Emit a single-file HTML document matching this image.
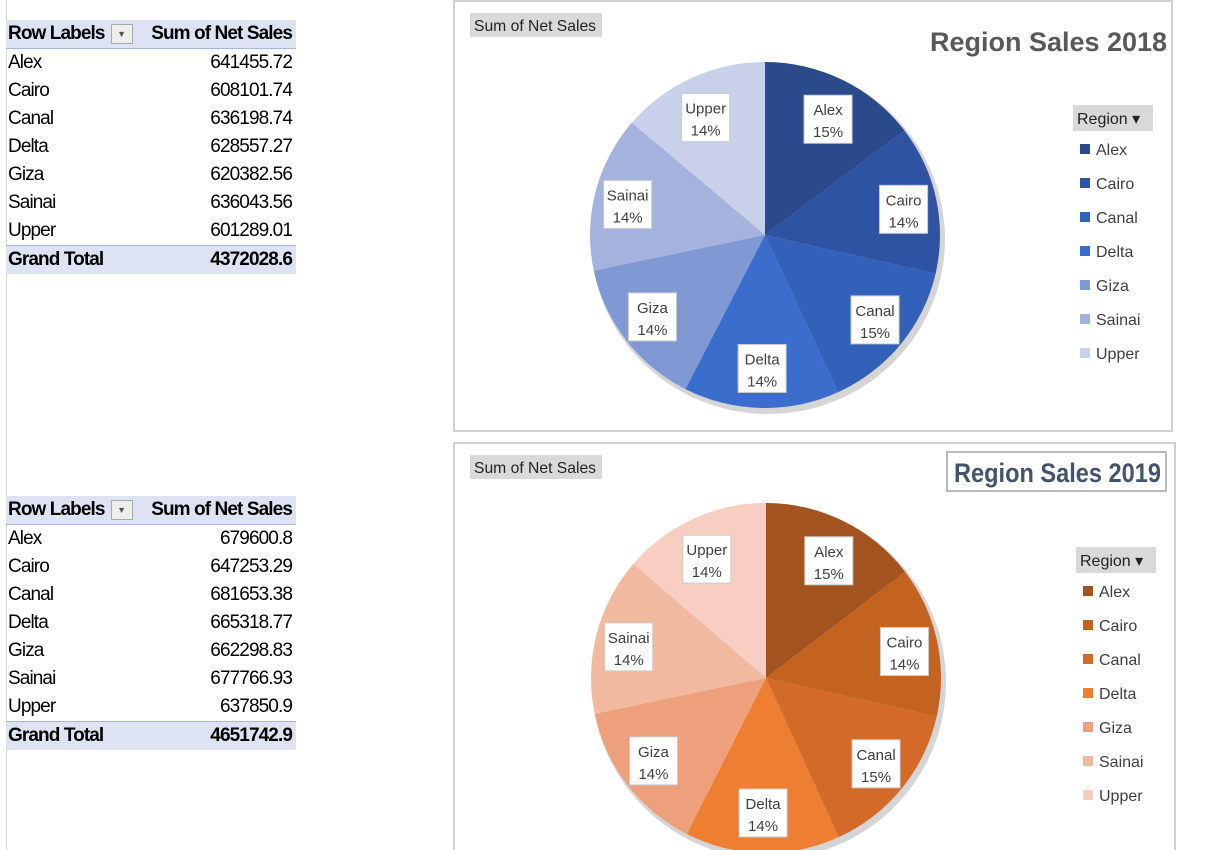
<!DOCTYPE html>
<html><head><meta charset="utf-8"><style>
body{margin:0;width:1215px;height:850px;background:#fff;overflow:hidden;position:relative;font-family:"Liberation Sans",sans-serif}
.grid{position:absolute;left:0;top:0;width:6px;height:850px;border-right:1px solid #d4d4d4}
table.pv{position:absolute;left:6px;border-collapse:collapse;font-size:19px;color:#000;width:290px;letter-spacing:-0.9px}
table.pv td{height:28px;padding:0 4px 0 2px;white-space:nowrap}
table.pv tr.h td{background:#dde3f3;font-weight:bold;border-bottom:1px solid #a9b6d8}
table.pv tr.t td{background:#dde3f3;font-weight:bold;border-top:1px solid #a9b6d8}
td.n{text-align:right}
.dd{display:inline-block;width:20px;height:18px;border:1px solid #aaa;background:#eee;vertical-align:middle;font-size:9px;text-align:center;line-height:18px;color:#555;margin-left:6px;letter-spacing:0}
svg{position:absolute;left:0;top:0}
</style></head><body>
<div class="grid"></div>
<table class="pv" style="top:20px">
<tr class="h"><td>Row Labels<span class="dd">▼</span></td><td class="n">Sum of Net Sales</td></tr>
<tr><td>Alex</td><td class="n">641455.72</td></tr><tr><td>Cairo</td><td class="n">608101.74</td></tr>
<tr><td>Canal</td><td class="n">636198.74</td></tr><tr><td>Delta</td><td class="n">628557.27</td></tr>
<tr><td>Giza</td><td class="n">620382.56</td></tr><tr><td>Sainai</td><td class="n">636043.56</td></tr>
<tr><td>Upper</td><td class="n">601289.01</td></tr>
<tr class="t"><td>Grand Total</td><td class="n">4372028.6</td></tr></table>
<table class="pv" style="top:496px">
<tr class="h"><td>Row Labels<span class="dd">▼</span></td><td class="n">Sum of Net Sales</td></tr>
<tr><td>Alex</td><td class="n">679600.8</td></tr><tr><td>Cairo</td><td class="n">647253.29</td></tr>
<tr><td>Canal</td><td class="n">681653.38</td></tr><tr><td>Delta</td><td class="n">665318.77</td></tr>
<tr><td>Giza</td><td class="n">662298.83</td></tr><tr><td>Sainai</td><td class="n">677766.93</td></tr>
<tr><td>Upper</td><td class="n">637850.9</td></tr>
<tr class="t"><td>Grand Total</td><td class="n">4651742.9</td></tr></table>
<svg id="s" width="1215" height="850"></svg>
<script>
const categories=["Alex","Cairo","Canal","Delta","Giza","Sainai","Upper"];
const sales2018=[641455.72,608101.74,636198.74,628557.27,620382.56,636043.56,601289.01];
const sales2019=[679600.8,647253.29,681653.38,665318.77,662298.83,677766.93,637850.9];
const pct2018=["15%","14%","15%","14%","14%","14%","14%"];
const pct2019=["15%","14%","15%","14%","14%","14%","14%"];
const colors2018=["#2b4a8c","#2e53a3","#3360b8","#3a6dcc","#8099d5","#a4b3dd","#c8d0ea"];
const colors2019=["#a3531f","#c4621f","#d36a28","#ee7e32","#eda07b","#f2b9a1","#f7cec1"];
const S=document.getElementById('s');const NS="http://www.w3.org/2000/svg";
function mk(t,a,p){const e=document.createElementNS(NS,t);for(const k in a)e.setAttribute(k,a[k]);(p||S).appendChild(e);return e;}
function chart(box,title,titleBox,vals,pcts,cols,cx,cy,rx,ry,legY,name){
 const g=mk('g',{});
 
 
 const fr=mk('rect',{x:box[0],y:box[1],width:box[2],height:box[3],fill:'#fff',stroke:'#d0d0d0','stroke-width':2},g);
 
 
 const fb=mk('rect',{x:box[0]+16,y:box[1]+12,width:132,height:24,fill:'#d9d9d9'},g);
 
 
 const ft=mk('text',{x:box[0]+20,y:box[1]+30,'font-size':16,fill:'#222',textLength:122,lengthAdjust:'spacingAndGlyphs'},g);ft.textContent='Sum of Net Sales';
 
 
 if(titleBox){const tb=mk('rect',{x:titleBox[0],y:titleBox[1],width:titleBox[2],height:titleBox[3],fill:'#fff',stroke:'#bbb','stroke-width':2},g);
  
  }
 const tt=mk('text',{x:title[1],y:title[2],'font-size':27,'font-weight':'bold',fill:title[3],textLength:title[4],lengthAdjust:'spacingAndGlyphs'},g);tt.textContent=title[0];
 
 
 const tot=vals.reduce((a,b)=>a+b,0);let a0=0;const clipId=name+'c';
 const cp=mk('clipPath',{id:clipId},g);mk('rect',{x:box[0],y:box[1],width:box[2],height:box[3]},cp);
 const pg=mk('g',{'clip-path':'url(#'+clipId+')'},g);
 mk('ellipse',{cx:cx+3,cy:cy+4,rx:rx+2,ry:ry+2,fill:'#888',opacity:.35},pg);
 vals.forEach((v,i)=>{const a1=a0+v/tot*2*Math.PI;
  const P=a=>[cx+rx*Math.sin(a),cy-ry*Math.cos(a)];const p0=P(a0),p1=P(a1);
  const s=mk('path',{d:`M${cx},${cy}L${p0[0]},${p0[1]}A${rx},${ry} 0 ${a1-a0>Math.PI?1:0} 1 ${p1[0]},${p1[1]}Z`,fill:cols[i]},pg);
  
  
  const m=(a0+a1)/2;const lx=cx+rx*0.81*Math.sin(m),ly=cy-ry*0.76*Math.cos(m)+4;
  const lr=mk('rect',{x:lx-24,y:ly-26,width:48,height:48,fill:'#fff',stroke:'#ccc'},pg);
  
  
  const l1=mk('text',{x:lx,y:ly-6,'font-size':15,fill:'#404040','text-anchor':'middle'},pg);l1.textContent=categories[i];
  
  
  const l2=mk('text',{x:lx,y:ly+16,'font-size':15,fill:'#404040','text-anchor':'middle'},pg);l2.textContent=pcts[i];
  
  
  a0=a1;});
 const lgx=box[0]+box[2]-95;
 const rb=mk('rect',{x:lgx-4,y:legY-14,width:80,height:26,fill:'#d9d9d9'},g);
 
 
 const rt=mk('text',{x:lgx,y:legY+5,'font-size':16,fill:'#222'},g);rt.textContent='Region   ▾';
 
 
 categories.forEach((c,i)=>{const y=legY+30+i*34;
  const sw=mk('rect',{x:lgx+3,y:y-5,width:10,height:10,fill:cols[i]},g);
  
  
  const t=mk('text',{x:lgx+19,y:y+6,'font-size':16,fill:'#404040'},g);t.textContent=c;
  
  });
}
chart([454,1,718,430],["Region Sales 2018",930,51,"#595959",237],null,sales2018,pct2018,colors2018,765,235,175,173,119,'chart-2018');
chart([454,443,721,420],["Region Sales 2019",954,482,"#44546a",207],[947,452,219,39],sales2019,pct2019,colors2019,766,678,175,175,561,'chart-2019');
</script>
</body></html>
